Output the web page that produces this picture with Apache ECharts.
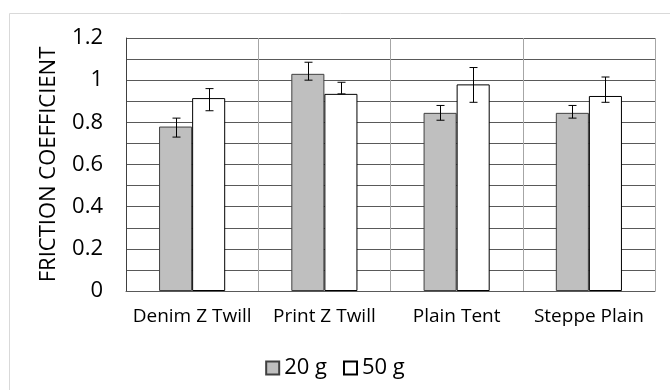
<!DOCTYPE html>
<html>
<head>
<meta charset="utf-8">
<script src="https://cdn.jsdelivr.net/npm/echarts@6/dist/echarts.min.js"></script>
<style>
  html, body { margin: 0; padding: 0; background: #fff; }
  #container { width: 670px; height: 390px; }
</style>
</head>
<body>
<div id="container"></div>
<script>
// data
var categories = ['Denim Z Twill', 'Print Z Twill', 'Plain Tent', 'Steppe Plain'];
var values20 = [0.78, 1.03, 0.845, 0.845];
var low20 = [0.73, 1.00, 0.81, 0.82];
var high20 = [0.82, 1.085, 0.88, 0.88];
var values50 = [0.915, 0.935, 0.98, 0.925];
var low50 = [0.855, 0.935, 0.895, 0.895];
var high50 = [0.96, 0.99, 1.06, 1.015];
var yTicks = [0, 0.2, 0.4, 0.6, 0.8, 1, 1.2];

var font = '"Open Sans", sans-serif';

function errorSeries(name, low, high, side) {
    var data = low.map(function (l, i) { return [i, l, high[i]]; });
    return {
        type: 'custom',
        name: name + ' err',
        data: data,
        z: 10,
        silent: true,
        renderItem: function (params, api) {
            var band = api.size([1, 0])[0];
            var off = side * band / 8;
            var top = api.coord([api.value(0), api.value(2)]);
            var bot = api.coord([api.value(0), api.value(1)]);
            var x = Math.round(top[0] + off) + 0.5;
            var cap = 4;
            var st = { stroke: '#000', lineWidth: 1 };
            return {
                type: 'group',
                children: [
                    { type: 'line', shape: { x1: x, y1: top[1], x2: x, y2: bot[1] }, style: st },
                    { type: 'line', shape: { x1: x - cap, y1: top[1], x2: x + cap, y2: top[1] }, style: st },
                    { type: 'line', shape: { x1: x - cap, y1: bot[1], x2: x + cap, y2: bot[1] }, style: st }
                ]
            };
        }
    };
}

var myChart = echarts.init(document.getElementById('container'));
myChart.setOption({
    animation: false,
    graphic: [{
        type: 'rect',
        shape: { x: 9.5, y: 13.5, width: 700, height: 400 },
        style: { fill: 'none', stroke: '#d9d9d9', lineWidth: 1 },
        silent: true
    }],
    grid: { left: 126, right: 15, top: 38, bottom: 99 },
    legend: {
        top: 352,
        left: 'center',
        itemWidth: 13,
        itemHeight: 13,
        itemGap: 16,
        icon: 'rect',
        data: ['20 g', '50 g'],
        textStyle: { fontFamily: font, fontSize: 22, color: '#000', padding: [0, 0, 0, 0] }
    },
    xAxis: {
        type: 'category',
        data: categories,
        axisTick: { show: false },
        axisLine: { lineStyle: { color: '#595959' } },
        axisLabel: { interval: 0, fontFamily: font, fontSize: 19, color: '#000', margin: 16 },
        splitLine: { show: true, interval: 0, lineStyle: { color: '#a6a6a6' } }
    },
    yAxis: {
        type: 'value',
        min: 0,
        max: 1.2,
        interval: 0.1,
        name: 'FRICTION COEFFICIENT',
        nameLocation: 'middle',
        nameGap: 66,
        nameTextStyle: { fontFamily: font, fontSize: 22, color: '#000' },
        axisLine: { show: true, lineStyle: { color: '#404040' } },
        axisTick: { show: false },
        axisLabel: {
            fontFamily: font, fontSize: 22, color: '#000', margin: 23,
            formatter: function (v) {
                var hit = yTicks.filter(function (t) { return Math.abs(t - v) < 1e-6; });
                return hit.length ? String(hit[0]) : '';
            }
        },
        splitLine: { lineStyle: { color: '#595959' } }
    },
    series: [
        {
            name: '20 g',
            type: 'bar',
            data: values20,
            barGap: '0%',
            barCategoryGap: '50%',
            itemStyle: { color: '#bfbfbf', borderColor: '#404040', borderWidth: 1 }
        },
        {
            name: '50 g',
            type: 'bar',
            data: values50,
            itemStyle: { color: '#ffffff', borderColor: '#000000', borderWidth: 1 }
        },
        errorSeries('20 g', low20, high20, -1),
        errorSeries('50 g', low50, high50, 1)
    ]
});
</script>
</body>
</html>
